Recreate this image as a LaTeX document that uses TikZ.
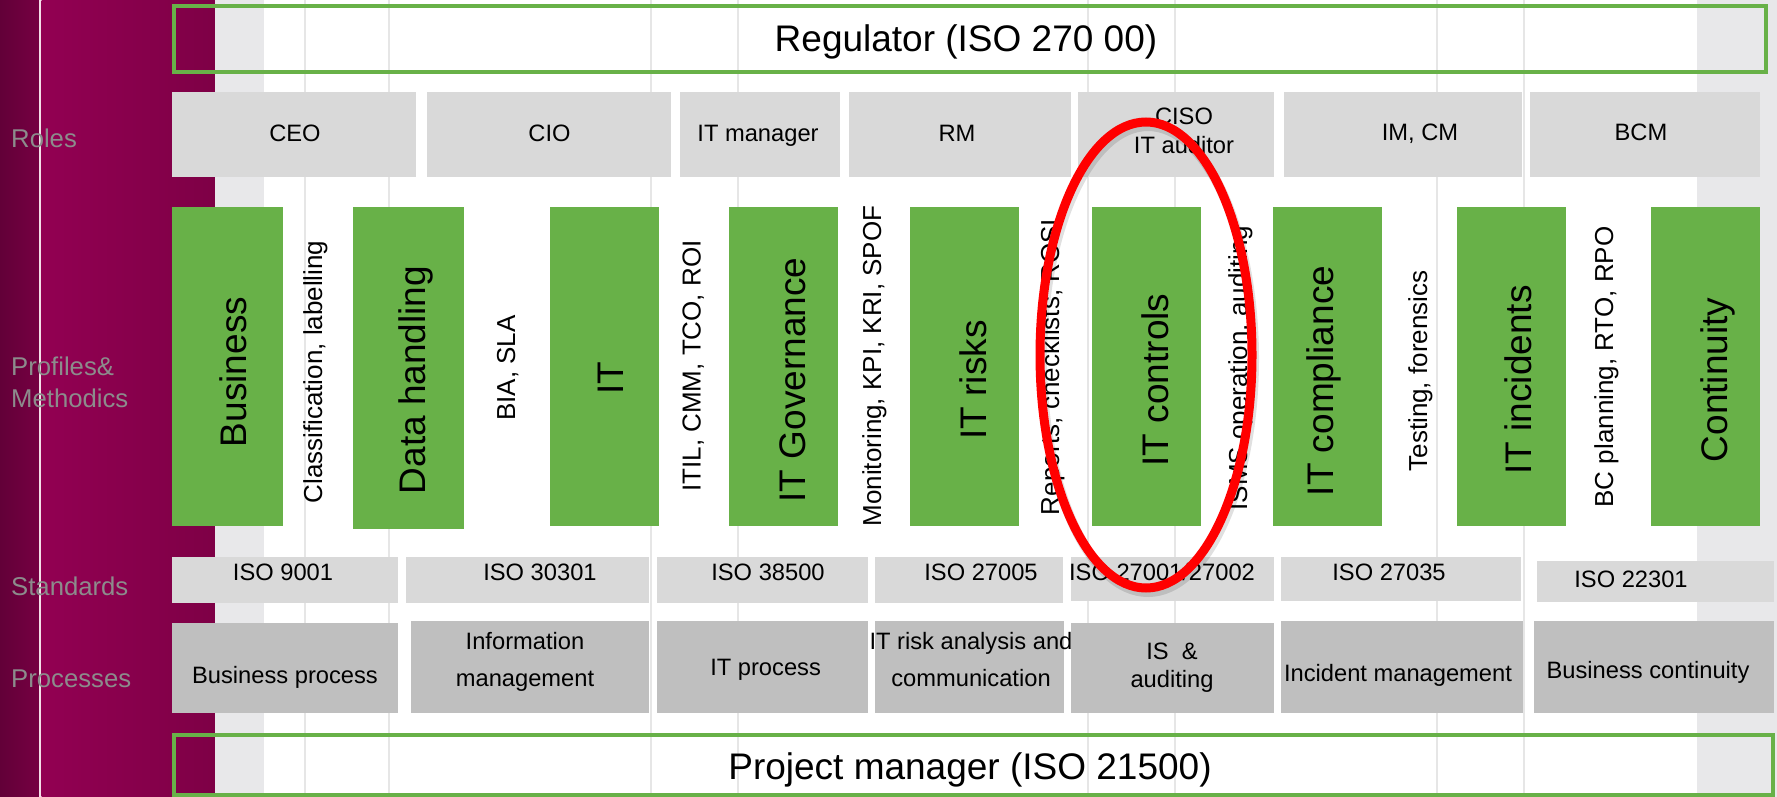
\documentclass[tikz,border=0pt]{standalone}
\usepackage{fontspec}
\setmainfont{Liberation Sans}
\usepackage{xcolor}
\usepackage{tikz}

\definecolor{barGreen}{RGB}{104,177,72}
\definecolor{roleGrey}{RGB}{217,217,217}
\definecolor{procGrey}{RGB}{191,191,191}
\definecolor{bandGrey}{RGB}{232,232,234}
\definecolor{lineGrey}{RGB}{230,230,230}
\definecolor{labGrey}{RGB}{140,140,140}
\definecolor{magL}{RGB}{146,0,82}
\definecolor{magR}{RGB}{126,0,70}
\definecolor{darkL}{RGB}{98,0,56}
\definecolor{darkR}{RGB}{118,0,66}
\definecolor{stripPink}{RGB}{244,222,232}

\begin{document}
\begin{tikzpicture}[x=1pt,y=-1pt,every node/.style={inner sep=0pt},
  greenbar/.style={fill=barGreen},
  greybox/.style={fill=roleGrey},
  procbox/.style={fill=procGrey},
  greenframe/.style={draw=barGreen,line width=4.5pt},
  faint/.style={draw=lineGrey,line width=2.5pt},
  bigtext/.style={font=\fontsize{37}{44}\selectfont,anchor=base},
  bartext/.style={font=\fontsize{37}{44}\selectfont,rotate=90,anchor=base},
  gaptext/.style={font=\fontsize{26}{31}\selectfont,rotate=90,anchor=base},
  boxtext/.style={font=\fontsize{23.7}{29}\selectfont,anchor=base},
  boxtwo/.style={font=\fontsize{23.7}{29}\selectfont,align=center,anchor=center},
  rowlabel/.style={font=\fontsize{25.7}{32}\selectfont,text=labGrey,align=left,anchor=base west}]

\useasboundingbox (0,0) rectangle (1777,797);

\pgfmathsetmacro{\RoleT}{92}
\pgfmathsetmacro{\RoleB}{177}
\pgfmathsetmacro{\BarT}{207}
\pgfmathsetmacro{\BarB}{526}
\pgfmathsetmacro{\StdT}{557}
\pgfmathsetmacro{\StdB}{603}
\pgfmathsetmacro{\ProT}{621}
\pgfmathsetmacro{\ProB}{713}

% background bands
\shade[left color=darkL,right color=darkR] (0,0) rectangle (39,797);
\fill[stripPink] (39,0) rectangle (41.5,797);
\shade[left color=magL,right color=magR] (41.5,0) rectangle (215,797);
\fill[bandGrey] (215,0) rectangle (264,797);
\fill[bandGrey] (1697,0) rectangle (1777,797);

% faint vertical lines
\draw[faint] (305,0)--(305,797);
\draw[faint] (389,0)--(389,797);
\draw[faint] (651,0)--(651,797);
\draw[faint] (738,0)--(738,797);
\draw[faint] (1088,0)--(1088,797);
\draw[faint] (1175,0)--(1175,797);
\draw[faint] (1437,0)--(1437,797);
\draw[faint] (1524,0)--(1524,797);

% row labels
\node[rowlabel] (lroles) at (11,147) {Roles};
\node[rowlabel,anchor=west] (lprof) at (11,382.6) {Profiles\&\\Methodics};
\node[rowlabel] (lstd) at (11,595) {Standards};
\node[rowlabel] (lproc) at (11,687) {Processes};

% regulator frame
\draw[greenframe] (174,6) rectangle (1766,72);
\node[bigtext] (reg) at (966,52) {Regulator (ISO 270 00)};

% roles row
\fill[greybox] (172,\RoleT) rectangle (416,\RoleB);
\fill[greybox] (427,\RoleT) rectangle (671,\RoleB);
\fill[greybox] (680,\RoleT) rectangle (840,\RoleB);
\fill[greybox] (849,\RoleT) rectangle (1071,\RoleB);
\fill[greybox] (1078,\RoleT) rectangle (1274,\RoleB);
\fill[greybox] (1284,\RoleT) rectangle (1522,\RoleB);
\fill[greybox] (1530,\RoleT) rectangle (1760,\RoleB);
\node[boxtext] (ceo) at (295,141.7) {CEO};
\node[boxtext] (cio) at (549.5,141.7) {CIO};
\node[boxtext] (itman) at (758,141.7) {IT manager};
\node[boxtext] (rm) at (957,141.7) {RM};
\node[boxtwo] (ciso) at (1184,131) {CISO\\IT auditor};
\node[boxtext] (imcm) at (1420,141) {IM, CM};
\node[boxtext] (bcm) at (1641,141) {BCM};

% profiles: green bars
\fill[greenbar] (172,\BarT) rectangle (283,\BarB);
\fill[greenbar] (353,\BarT) rectangle (464,529);
\fill[greenbar] (550,\BarT) rectangle (659,\BarB);
\fill[greenbar] (729,\BarT) rectangle (838,\BarB);
\fill[greenbar] (910,\BarT) rectangle (1019,\BarB);
\fill[greenbar] (1092,\BarT) rectangle (1201,\BarB);
\fill[greenbar] (1273,\BarT) rectangle (1382,\BarB);
\fill[greenbar] (1457,\BarT) rectangle (1566,\BarB);
\fill[greenbar] (1651,\BarT) rectangle (1760,\BarB);
\node[bartext] (business) at (246,372) {Business};
\node[bartext] (datah) at (425,380) {Data handling};
\node[bartext] (it) at (623,378) {IT};
\node[bartext] (itgov) at (805,380) {IT Governance};
\node[bartext] (itrisk) at (986,380) {IT risks};
\node[bartext] (itctrl) at (1168,380) {IT controls};
\node[bartext] (itcomp) at (1333,381) {IT compliance};
\node[bartext] (itinc) at (1531,380) {IT incidents};
\node[bartext] (cont) at (1727,380) {Continuity};

% methodics between the bars
\node[gaptext] (classif) at (322,372) {Classification, labelling};
\node[gaptext] (bia) at (515,368) {BIA, SLA};
\node[gaptext] (itil) at (700.6,366) {ITIL, CMM, TCO, ROI};
\node[gaptext] (monit) at (881,366) {Monitoring, KPI, KRI, SPOF};
\node[gaptext] (reports) at (1059,367) {Reports, checklists, ROSI};
\node[gaptext] (isms) at (1247,368) {ISMS operation, auditing};
\node[gaptext] (testing) at (1427,371) {Testing, forensics};
\node[gaptext] (bcplan) at (1613,367) {BC planning, RTO, RPO};

% standards row
\fill[greybox] (172,\StdT) rectangle (398,\StdB);
\fill[greybox] (406,\StdT) rectangle (649,\StdB);
\fill[greybox] (657,\StdT) rectangle (868,\StdB);
\fill[greybox] (875,\StdT) rectangle (1063,\StdB);
\fill[greybox] (1071,\StdT) rectangle (1274,601);
\fill[greybox] (1281,\StdT) rectangle (1521,601);
\fill[greybox] (1537,561) rectangle (1774,602);
\node[boxtext] (iso9001) at (283,580) {ISO 9001};
\node[boxtext] (iso30301) at (540,580) {ISO 30301};
\node[boxtext] (iso38500) at (768,580) {ISO 38500};
\node[boxtext] (iso27005) at (981,580) {ISO 27005};
\node[boxtext] (iso27001) at (1162,580) {ISO 27001/27002};
\node[boxtext] (iso27035) at (1389,580) {ISO 27035};
\node[boxtext] (iso22301) at (1631,587) {ISO 22301};

% processes row
\fill[procbox] (172,623) rectangle (398,\ProB);
\fill[procbox] (411,\ProT) rectangle (649,\ProB);
\fill[procbox] (657,\ProT) rectangle (868,\ProB);
\fill[procbox] (875,\ProT) rectangle (1064,\ProB);
\fill[procbox] (1071,623) rectangle (1274,\ProB);
\fill[procbox] (1281,\ProT) rectangle (1523,\ProB);
\fill[procbox] (1534,\ProT) rectangle (1774,\ProB);
\node[boxtext] (bproc) at (285,683) {Business process};
\node[boxtwo] (infman) at (525,662.3) {Information\\[8pt]management};
\node[boxtext] (itproc) at (765.6,675) {IT process};
\node[boxtwo] (riskan) at (971,659.7) {IT risk analysis and\\[8pt]communication};
\node[boxtwo] (isaud) at (1172,667.9) {IS\ \ \&\\[-1pt]auditing};
\node[boxtext] (incman) at (1398,681.7) {Incident management};
\node[boxtext] (bcont) at (1648,678) {Business continuity};

% project manager frame
\draw[greenframe] (174,735) rectangle (1773,795);
\node[bigtext] (pm) at (970,779) {Project manager (ISO 21500)};

% red ellipse round IT controls
\draw[black,opacity=0.12,line width=10pt] (1148,359) ellipse [x radius=106pt,y radius=233pt];
\draw[red,line width=9pt] (1146,355) ellipse [x radius=106pt,y radius=233pt];
\end{tikzpicture}
\end{document}
